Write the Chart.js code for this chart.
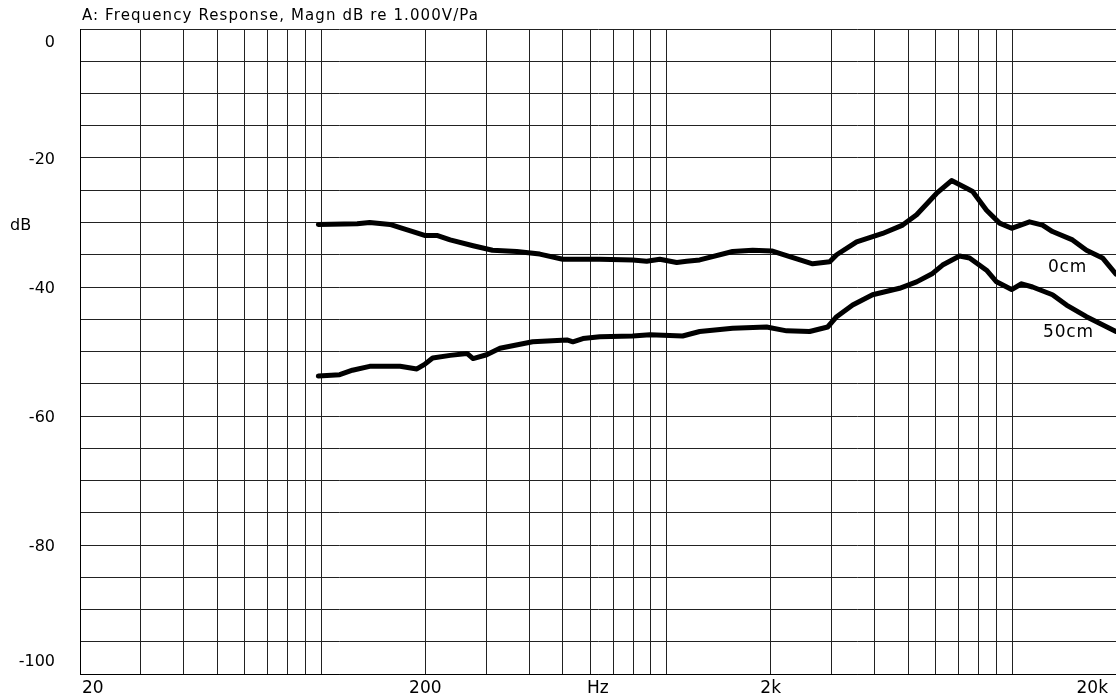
<!DOCTYPE html>
<html>
<head>
<meta charset="utf-8">
<script src="https://cdn.jsdelivr.net/npm/chart.js@4.4.1/dist/chart.umd.min.js"></script>
<style>
  html, body { margin: 0; padding: 0; background: #fff; }
  #wrap { width: 1116px; height: 700px; position: relative; }
</style>
</head>
<body>
<div id="wrap"><canvas id="freqChart"></canvas></div>
<script>
// Frequency response, values (Hz / dB)
const freq0cm = [98, 127, 138, 158, 169, 184, 199, 216, 236, 275, 313, 368, 429, 500, 640, 797, 875, 955,
  1069, 1142, 1246, 1552, 1774, 2014, 2271, 2646, 2965, 3105, 3548, 4219, 4822, 5293, 6042, 6681, 7384,
  7690, 8435, 9202, 9970, 11236, 12250, 13094, 14966, 16428, 18279, 20000];
const db0cm = [-30.3, -30.2, -30.0, -30.3, -30.8, -31.4, -32.0, -32.0, -32.7, -33.6, -34.3, -34.5, -34.9, -35.7, -35.7, -35.8, -36.0, -35.7,
  -36.2, -36.0, -35.8, -34.5, -34.3, -34.4, -35.3, -36.4, -36.1, -35.0, -33.0, -31.7, -30.4, -28.8, -25.5, -23.5, -24.7,
  -25.2, -28.1, -30.1, -30.9, -29.9, -30.4, -31.4, -32.7, -34.3, -35.5, -38.0];

const freq50cm = [98, 113, 123, 138, 169, 189, 199, 210, 236, 264, 275, 301, 329, 409, 514, 535, 572, 640,
  797, 894, 1112, 1246, 1552, 1946, 2225, 2593, 2925, 3105, 3455, 3945, 4723, 5293, 5887, 6293, 7047,
  7533, 8435, 9016, 9970, 10657, 11465, 13094, 14383, 16428, 20000];
const db50cm = [-53.8, -53.6, -52.9, -52.3, -52.3, -52.7, -52.0, -51.0, -50.6, -50.3, -51.1, -50.5, -49.5, -48.5, -48.2, -48.5, -48.0, -47.7,
  -47.6, -47.4, -47.6, -46.9, -46.4, -46.2, -46.8, -46.9, -46.2, -44.6, -42.8, -41.2, -40.2, -39.2, -37.9, -36.6, -35.2,
  -35.5, -37.4, -39.2, -40.4, -39.5, -40.0, -41.2, -42.8, -44.6, -46.9];

// Axes
const xGridHz = [20, 30, 40, 50, 60, 70, 80, 90, 100, 200, 300, 400, 500, 600, 700, 800, 900,
  1000, 2000, 3000, 4000, 5000, 6000, 7000, 8000, 9000, 10000, 20000];
const xLabelHz = [20, 200, 2000, 20000];
const xLabelText = ['20', '200', '2k', '20k'];
const xUnitHz = 632; // "Hz" sits half way between 200 and 2k
const yGridDb = [0, -5, -10, -15, -20, -25, -30, -35, -40, -45, -50, -55, -60, -65, -70, -75, -80, -85, -90, -95, -100];
const yLabelDb = [0, -20, -40, -60, -80, -100];
const yUnitDb = -30;

const titleText = 'A: Frequency Response, Magn dB re 1.000V/Pa';
const curveNames = ['0cm', '50cm'];
const curveNameHz = [14480, 14560];
const curveNameDb = [-37.0, -47.1];

const FONT = '"DejaVu Sans", "Liberation Sans", sans-serif';

function clamp(v, lo, hi) {
  return Math.max(lo, Math.min(hi, v));
}

// all the text is drawn here, placed with the chart's own scales
const textLayer = {
  id: 'textLayer',
  afterDraw(chart) {
    const ctx = chart.ctx;
    const area = chart.chartArea;
    const xs = chart.scales.x;
    const ys = chart.scales.y;
    ctx.save();
    ctx.fillStyle = '#000';

    // title
    ctx.font = '15px ' + FONT;
    ctx.letterSpacing = '1.1px';
    ctx.textAlign = 'left';
    ctx.textBaseline = 'alphabetic';
    ctx.fillText(titleText, area.left + 2, 20);
    ctx.letterSpacing = '0px';

    // x labels
    ctx.font = '17px ' + FONT;
    ctx.textAlign = 'center';
    ctx.textBaseline = 'middle';
    xLabelHz.forEach((v, i) => {
      const w = ctx.measureText(xLabelText[i]).width;
      const px = clamp(xs.getPixelForValue(v), area.left + w / 2 + 2, area.right - w / 2 - 8);
      ctx.fillText(xLabelText[i], px, area.bottom + 15);
    });
    ctx.fillText('Hz', xs.getPixelForValue(xUnitHz), area.bottom + 15);

    // y labels
    ctx.font = '16px ' + FONT;
    ctx.textAlign = 'right';
    yLabelDb.forEach(v => {
      const py = clamp(ys.getPixelForValue(v) + 2, area.top + 14, area.bottom - 12);
      ctx.fillText(String(v), area.left - 25, py);
    });
    ctx.textAlign = 'left';
    ctx.fillText('dB', 10, ys.getPixelForValue(yUnitDb) + 3);

    // curve names
    ctx.font = '17px ' + FONT;
    ctx.letterSpacing = '0.8px';
    ctx.textAlign = 'center';
    curveNames.forEach((name, i) => {
      ctx.fillText(name, xs.getPixelForValue(curveNameHz[i]), ys.getPixelForValue(curveNameDb[i]));
    });
    ctx.restore();
  }
};

const ctx = document.getElementById('freqChart').getContext('2d');
const freqChart = new Chart(ctx, {
  type: 'scatter',
  data: {
    datasets: [
      {
        label: '0cm',
        data: freq0cm.map((f, i) => ({ x: f, y: db0cm[i] })),
        showLine: true,
        borderColor: '#000',
        borderWidth: 5,
        borderJoinStyle: 'round',
        borderCapStyle: 'round',
        pointRadius: 0,
        tension: 0
      },
      {
        label: '50cm',
        data: freq50cm.map((f, i) => ({ x: f, y: db50cm[i] })),
        showLine: true,
        borderColor: '#000',
        borderWidth: 5,
        borderJoinStyle: 'round',
        borderCapStyle: 'round',
        pointRadius: 0,
        tension: 0
      }
    ]
  },
  options: {
    responsive: true,
    maintainAspectRatio: false,
    animation: false,
    layout: { padding: { top: 29, left: 0, right: 0, bottom: 0 } },
    plugins: {
      legend: { display: false },
      tooltip: { enabled: false }
    },
    scales: {
      x: {
        type: 'logarithmic',
        min: 20,
        max: 20000,
        afterBuildTicks: scale => { scale.ticks = xGridHz.map(v => ({ value: v })); },
        afterFit: scale => { scale.height = 26; },
        ticks: { display: false },
        grid: { color: '#222', lineWidth: 1, drawTicks: false },
        border: { color: '#000', width: 1 }
      },
      y: {
        min: -100,
        max: 0,
        afterBuildTicks: scale => { scale.ticks = yGridDb.map(v => ({ value: v })); },
        afterFit: scale => { scale.width = 80; },
        ticks: { display: false },
        grid: { color: '#222', lineWidth: 1, drawTicks: false },
        border: { color: '#000', width: 1 }
      }
    }
  },
  plugins: [textLayer]
});
</script>
</body>
</html>
